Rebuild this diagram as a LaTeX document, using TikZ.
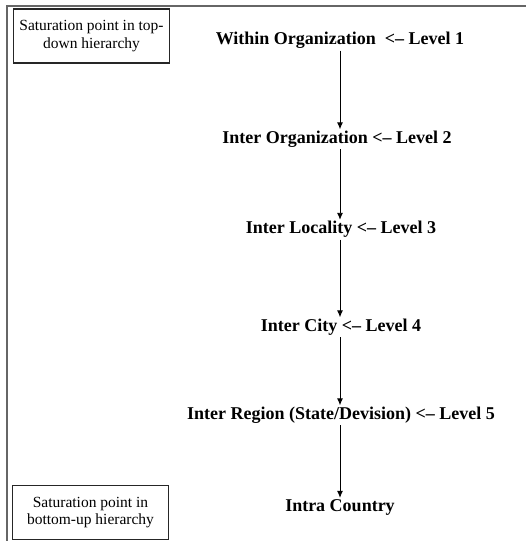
\documentclass[tikz,border=0pt]{standalone}
\usepackage{fontspec}
\setmainfont{Liberation Serif}
\usetikzlibrary{arrows.meta}
\begin{document}
\begin{tikzpicture}[x=1pt,y=1pt,
  level/.style={font=\fontsize{18}{21}\selectfont\bfseries, inner sep=0pt, anchor=base},
  note/.style={draw=black!85, line width=1.2pt, minimum width=156pt, minimum height=54pt,
    align=center, inner sep=2pt, font=\fontsize{15.5}{17.5}\selectfont},
  flow/.style={-{Latex[length=7pt,width=6pt]}, line width=0.9pt, shorten <=2pt, shorten >=1pt},
  frame/.style={draw=black!60, line width=1.6pt}]
\useasboundingbox (0,0) rectangle (526,-541);
% open frame: top and left edges only
\draw[frame] (7,-541) -- (7,-6) -- (526,-6);
% side notes
\node[note] (top) at (91.5,-36) {Saturation point in top-\\down hierarchy};
\node[note] (bottom) at (90.5,-512.5) {Saturation point in\\bottom-up hierarchy};
% hierarchy levels
\node[level] (l1) at (340,-44.5) {Within Organization\ \ <– Level 1};
\node[level] (l2) at (337,-143) {Inter Organization <– Level 2};
\node[level] (l3) at (341,-233.5) {Inter Locality <– Level 3};
\node[level] (l4) at (341,-331) {Inter City <– Level 4};
\node[level] (l5) at (341,-419) {Inter Region (State/Devision) <– Level 5};
\node[level] (l6) at (340,-511) {Intra Country};
% connectors
\draw[flow] (l1.south -| 340,0) -- (l2.north -| 340,0);
\draw[flow] (l2.south -| 340,0) -- (l3.north -| 340,0);
\draw[flow] (l3.south -| 340,0) -- (l4.north -| 340,0);
\draw[flow] (l4.south -| 340,0) -- (l5.north -| 340,0);
\draw[flow] (l5.south -| 340,0) -- (l6.north -| 340,0);
\end{tikzpicture}
\end{document}
